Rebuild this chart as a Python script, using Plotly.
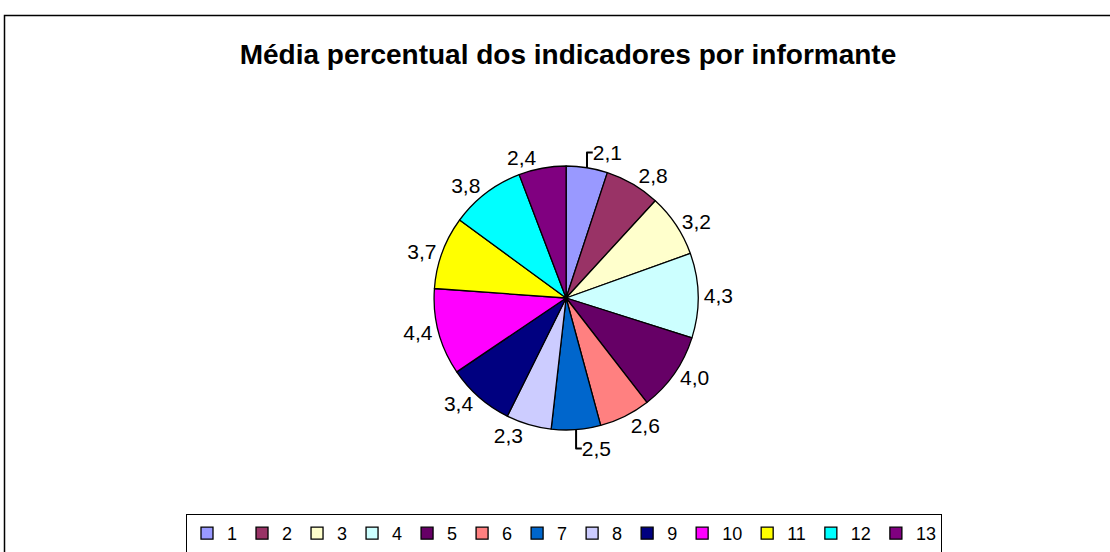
import plotly.graph_objects as go

categories = ["1", "2", "3", "4", "5", "6", "7", "8", "9", "10", "11", "12", "13"]
values = [2.1, 2.8, 3.2, 4.3, 4.0, 2.6, 2.5, 2.3, 3.4, 4.4, 3.7, 3.8, 2.4]
colors = ["#9999FF", "#993366", "#FFFFCC", "#CCFFFF", "#660066", "#FF8080",
          "#0066CC", "#CCCCFF", "#000080", "#FF00FF", "#FFFF00", "#00FFFF", "#800080"]
title_text = "Média percentual dos indicadores por informante"

W, H = 1110, 552
FONT = "Liberation Sans, Arial, sans-serif"

fig = go.Figure(go.Pie(
    labels=categories,
    values=values,
    sort=False,
    direction="clockwise",
    rotation=0,
    marker=dict(colors=colors, line=dict(color="black", width=1.3)),
    texttemplate="%{value:.1f}",
    textposition="outside",
    outsidetextfont=dict(family=FONT, size=21, color="black"),
    hoverinfo="label+value",
    domain=dict(x=[0.2, 0.82], y=[(H - 430) / H, (H - 166) / H]),
))

fig.update_layout(
    width=W, height=H,
    separators=",.",
    margin=dict(l=0, r=0, t=0, b=0, autoexpand=False),
    paper_bgcolor="white",
    plot_bgcolor="white",
    font=dict(family=FONT, size=18, color="black"),
    title=dict(text="<b>" + title_text + "</b>", x=568 / W, xanchor="center",
               y=1 - 54 / H, yanchor="middle",
               font=dict(family=FONT, size=28, color="black")),
    legend=dict(orientation="h", x=564 / W, xanchor="center",
                y=(H - 514) / H, yanchor="top",
                bgcolor="white", bordercolor="black", borderwidth=1,
                font=dict(family=FONT, size=18, color="black"),
                itemwidth=30, traceorder="normal"),
    shapes=[dict(type="rect", xref="paper", yref="paper",
                 x0=4.5 / W, x1=1.01, y0=-0.01, y1=1 - 15.5 / H,
                 line=dict(color="black", width=1.5), fillcolor="rgba(0,0,0,0)",
                 layer="below")],
)

fig.write_html("out.html",
               config={"displayModeBar": False},
               post_script="document.body.style.margin='0';document.body.style.overflow='hidden';")
